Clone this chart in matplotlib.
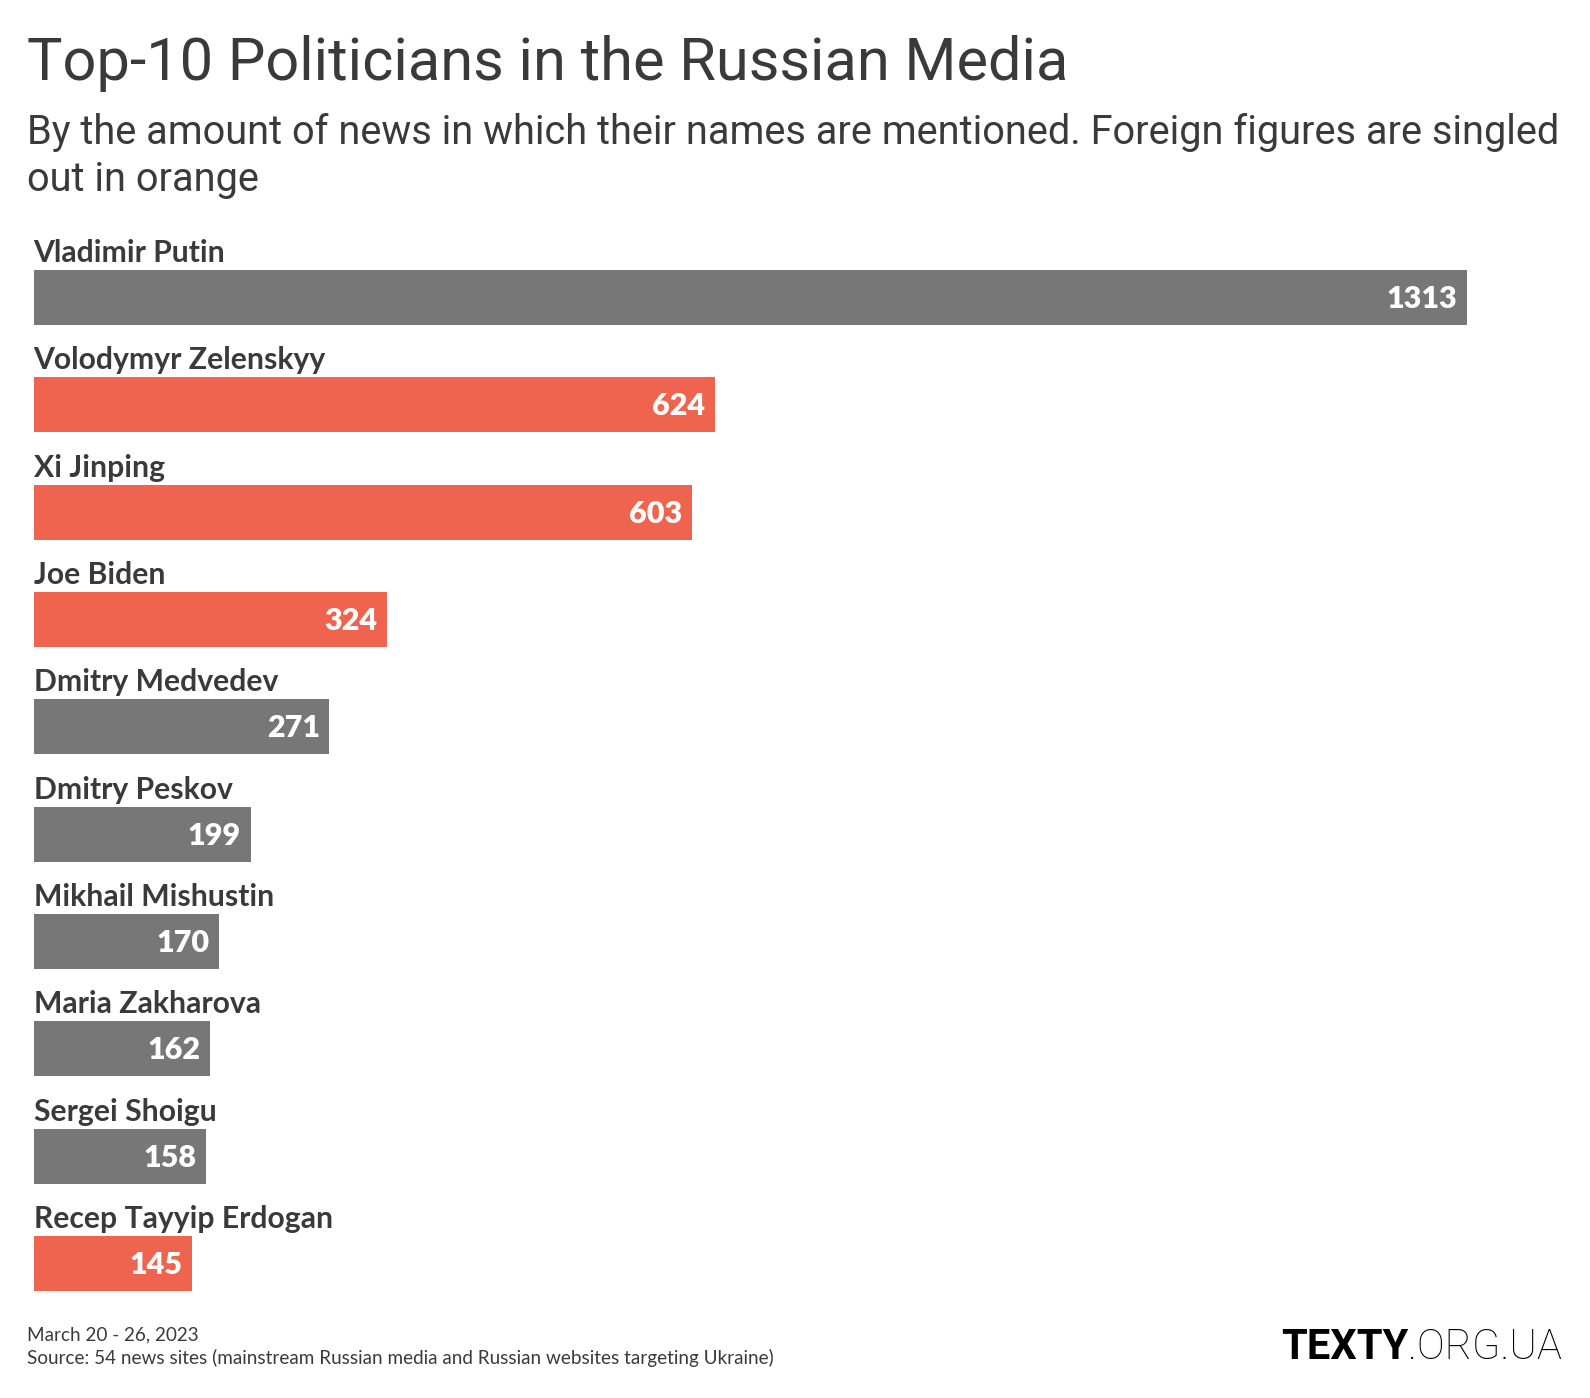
import matplotlib
matplotlib.use("Agg")
import matplotlib.pyplot as plt

# data
names = ["Vladimir Putin", "Volodymyr Zelenskyy", "Xi Jinping", "Joe Biden",
         "Dmitry Medvedev", "Dmitry Peskov", "Mikhail Mishustin",
         "Maria Zakharova", "Sergei Shoigu", "Recep Tayyip Erdogan"]
counts = [1313, 624, 603, 324, 271, 199, 170, 162, 158, 145]
foreign = [False, True, True, True, False, False, False, False, False, True]

GRAY = "#777777"
ORANGE = "#ee644f"
TEXT = "#3a3a3a"

W, H = 1590, 1398
fig = plt.figure(figsize=(W / 100, H / 100), dpi=100)


def fx(x):
    return x / W


def fy(y):
    return 1 - y / H


# axes: zero at x=33.5px, 1313 at 1467px
left_px, right_px = 33.5, 1556
px_per_unit = (1467 - 33.5) / 1313
top_px, bot_px = 211.7, 1317.2
ax = fig.add_axes([fx(left_px), fy(bot_px), (right_px - left_px) / W, (bot_px - top_px) / H])
ax.set_xlim(0, (right_px - left_px) / px_per_unit)
ax.set_ylim(9.5, -0.8)
ax.axis("off")

ypos = list(range(len(names)))
colors = [ORANGE if f else GRAY for f in foreign]
ax.barh(ypos, counts, height=0.513, color=colors, edgecolor="none")

for y, name, v in zip(ypos, names, counts):
    ax.text(0, y - 0.33, name, fontsize=21.7, fontweight="bold", color=TEXT,
            family="Lato", va="baseline", ha="left")
    ax.annotate(str(v), (v, y), xytext=(-7, -1), textcoords="offset points",
                ha="right", va="center", fontsize=22, fontweight="heavy",
                color="white", family="Lato")

# title and subtitle
fig.text(fx(27), fy(80), "Top-10 Politicians in the Russian Media", fontsize=42.8,
         color=TEXT, family="Roboto", va="baseline", ha="left")
fig.text(fx(27), fy(144),
         "By the amount of news in which their names are mentioned. Foreign figures are singled",
         fontsize=28.6, color=TEXT, family="Roboto", va="baseline", ha="left")
fig.text(fx(27), fy(190.6), "out in orange", fontsize=28.6, color=TEXT,
         family="Roboto", va="baseline", ha="left")

# footer
fig.text(fx(27), fy(1340), "March 20 - 26, 2023", fontsize=13.6, color=TEXT,
         family="Lato", va="baseline", ha="left")
fig.text(fx(27), fy(1364),
         "Source: 54 news sites (mainstream Russian media and Russian websites targeting Ukraine)",
         fontsize=13.6, color=TEXT, family="Lato", va="baseline", ha="left")

# logo
t2 = fig.text(fx(1562), fy(1359), ".ORG.UA", fontsize=30, color="black",
              family="Roboto", fontweight="light", va="baseline", ha="right")
fig.canvas.draw()
bb = t2.get_window_extent()
fig.text(bb.x0 / W, fy(1359), "TEXTY", fontsize=30, color="black",
         family="Roboto", fontweight="bold", va="baseline", ha="right")

fig.savefig("out.png", dpi=100, facecolor="white")
